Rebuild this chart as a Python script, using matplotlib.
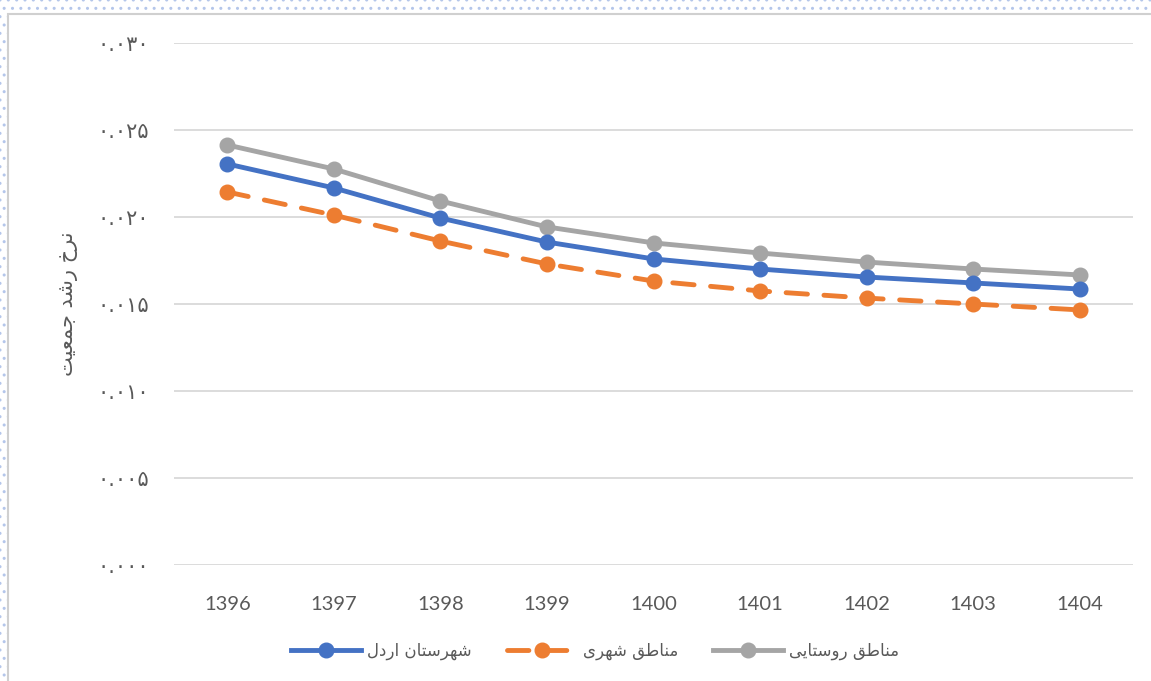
import matplotlib
matplotlib.use("Agg")
import matplotlib.pyplot as plt
from matplotlib.patches import Rectangle

# ---- data ----
years = ["1396", "1397", "1398", "1399", "1400", "1401", "1402", "1403", "1404"]
ardal = [0.02305, 0.02167, 0.01994, 0.01856, 0.01759, 0.01701, 0.01655, 0.01621, 0.01586]
urban = [0.02144, 0.02011, 0.01862, 0.01730, 0.01632, 0.01575, 0.01534, 0.01500, 0.01466]
rural = [0.02414, 0.02276, 0.02092, 0.01943, 0.01851, 0.01793, 0.01741, 0.01701, 0.01667]
yticks = [0.000, 0.005, 0.010, 0.015, 0.020, 0.025, 0.030]

series_names = ["شهرستان اردل", "مناطق شهری", "مناطق روستایی"]
ylabel = "نرخ رشد جمعیت"

# ---- tiny Arabic/Persian shaper (matplotlib does no shaping / bidi) ----
# letter: (isolated, final, initial, medial); None -> does not join to the next letter
FORMS = {
    "ا": ("\uFE8D", "\uFE8E", None, None),
    "ت": ("\uFE95", "\uFE96", "\uFE97", "\uFE98"),
    "ج": ("\uFE9D", "\uFE9E", "\uFE9F", "\uFEA0"),
    "خ": ("\uFEA5", "\uFEA6", "\uFEA7", "\uFEA8"),
    "د": ("\uFEA9", "\uFEAA", None, None),
    "ر": ("\uFEAD", "\uFEAE", None, None),
    "س": ("\uFEB1", "\uFEB2", "\uFEB3", "\uFEB4"),
    "ش": ("\uFEB5", "\uFEB6", "\uFEB7", "\uFEB8"),
    "ط": ("\uFEC1", "\uFEC2", "\uFEC3", "\uFEC4"),
    "ع": ("\uFEC9", "\uFECA", "\uFECB", "\uFECC"),
    "ق": ("\uFED5", "\uFED6", "\uFED7", "\uFED8"),
    "ل": ("\uFEDD", "\uFEDE", "\uFEDF", "\uFEE0"),
    "م": ("\uFEE1", "\uFEE2", "\uFEE3", "\uFEE4"),
    "ن": ("\uFEE5", "\uFEE6", "\uFEE7", "\uFEE8"),
    "ه": ("\uFEE9", "\uFEEA", "\uFEEB", "\uFEEC"),
    "و": ("\uFEED", "\uFEEE", None, None),
    "ی": ("\uFEEF", "\uFEF0", "\uFEF3", "\uFEF4"),
}


def shape_rtl(text):
    chars = list(text)
    out = []
    for i, c in enumerate(chars):
        if c not in FORMS:
            out.append(c)
            continue
        prev = chars[i - 1] if i > 0 else None
        nxt = chars[i + 1] if i + 1 < len(chars) else None
        join_prev = prev in FORMS and FORMS[prev][2] is not None
        join_next = nxt in FORMS and FORMS[c][2] is not None
        iso, fin, ini, med = FORMS[c]
        if join_prev and join_next:
            out.append(med)
        elif join_prev:
            out.append(fin)
        elif join_next:
            out.append(ini)
        else:
            out.append(iso)
    return "".join(reversed(out))


PERSIAN_DIGITS = str.maketrans("0123456789", "۰۱۲۳۴۵۶۷۸۹")


def fa_num(v):
    return f"{v:.3f}".translate(PERSIAN_DIGITS)


# ---- figure ----
TXT = "#595959"
fig = plt.figure(figsize=(11.51, 6.81), dpi=100)
W, H = 1151, 681

# dotted page background around the chart area
fig.patches.append(Rectangle((0, 0), 1, 1, transform=fig.transFigure,
                             facecolor="white", edgecolor="#B4C6EA",
                             hatch="..", linewidth=0, zorder=-3))
fig.patches.append(Rectangle((8 / W, -0.01), 1.1, 1 - 14 / H + 0.01,
                             transform=fig.transFigure, facecolor="white",
                             edgecolor="#D0D0D0", linewidth=1.5, zorder=-2))

ax = fig.add_axes([174 / W, 1 - 565 / H, (1133 - 174) / W, (565 - 43) / H])
ax.set_facecolor("none")

LW, MS = 3.5, 10.5
x = range(len(years))
ax.plot(x, ardal, color="#4472C4", lw=LW, marker="o", ms=MS,
        label=shape_rtl(series_names[0]), zorder=4)
ax.plot(x, urban, color="#ED7D31", lw=LW, marker="o", ms=MS,
        dashes=(4.4, 3.4), dash_capstyle="round",
        label=shape_rtl(series_names[1]), zorder=3)
ax.plot(x, rural, color="#A5A5A5", lw=LW, marker="o", ms=MS,
        label=shape_rtl(series_names[2]), zorder=2)

ax.set_xlim(-0.5, len(years) - 0.5)
ax.set_ylim(0, 0.030)
ax.set_xticks(list(x))
ax.set_xticklabels(years, fontfamily="Lato", fontsize=14.5, color=TXT)
ax.set_yticks(yticks)
ax.set_yticklabels([fa_num(v) for v in yticks], fontfamily="DejaVu Sans",
                   fontsize=15, color=TXT)
ax.tick_params(axis="both", length=0)
ax.tick_params(axis="x", pad=22)
ax.tick_params(axis="y", pad=18)
ax.grid(axis="y", color="#D9D9D9", lw=1.3)
ax.set_axisbelow(True)
for s in ax.spines.values():
    s.set_visible(False)

ax.set_ylabel(shape_rtl(ylabel), fontfamily="DejaVu Sans", fontsize=15,
              color=TXT, labelpad=14)

leg = fig.legend(*ax.get_legend_handles_labels(), loc="center",
                 bbox_to_anchor=(595 / W, 1 - 651 / H), ncol=3, frameon=False,
                 prop={"family": "DejaVu Sans", "size": 12},
                 handlelength=4.2, columnspacing=2.1, handletextpad=0.35)
for t in leg.get_texts():
    t.set_color(TXT)

fig.savefig("out.png", dpi=100)
